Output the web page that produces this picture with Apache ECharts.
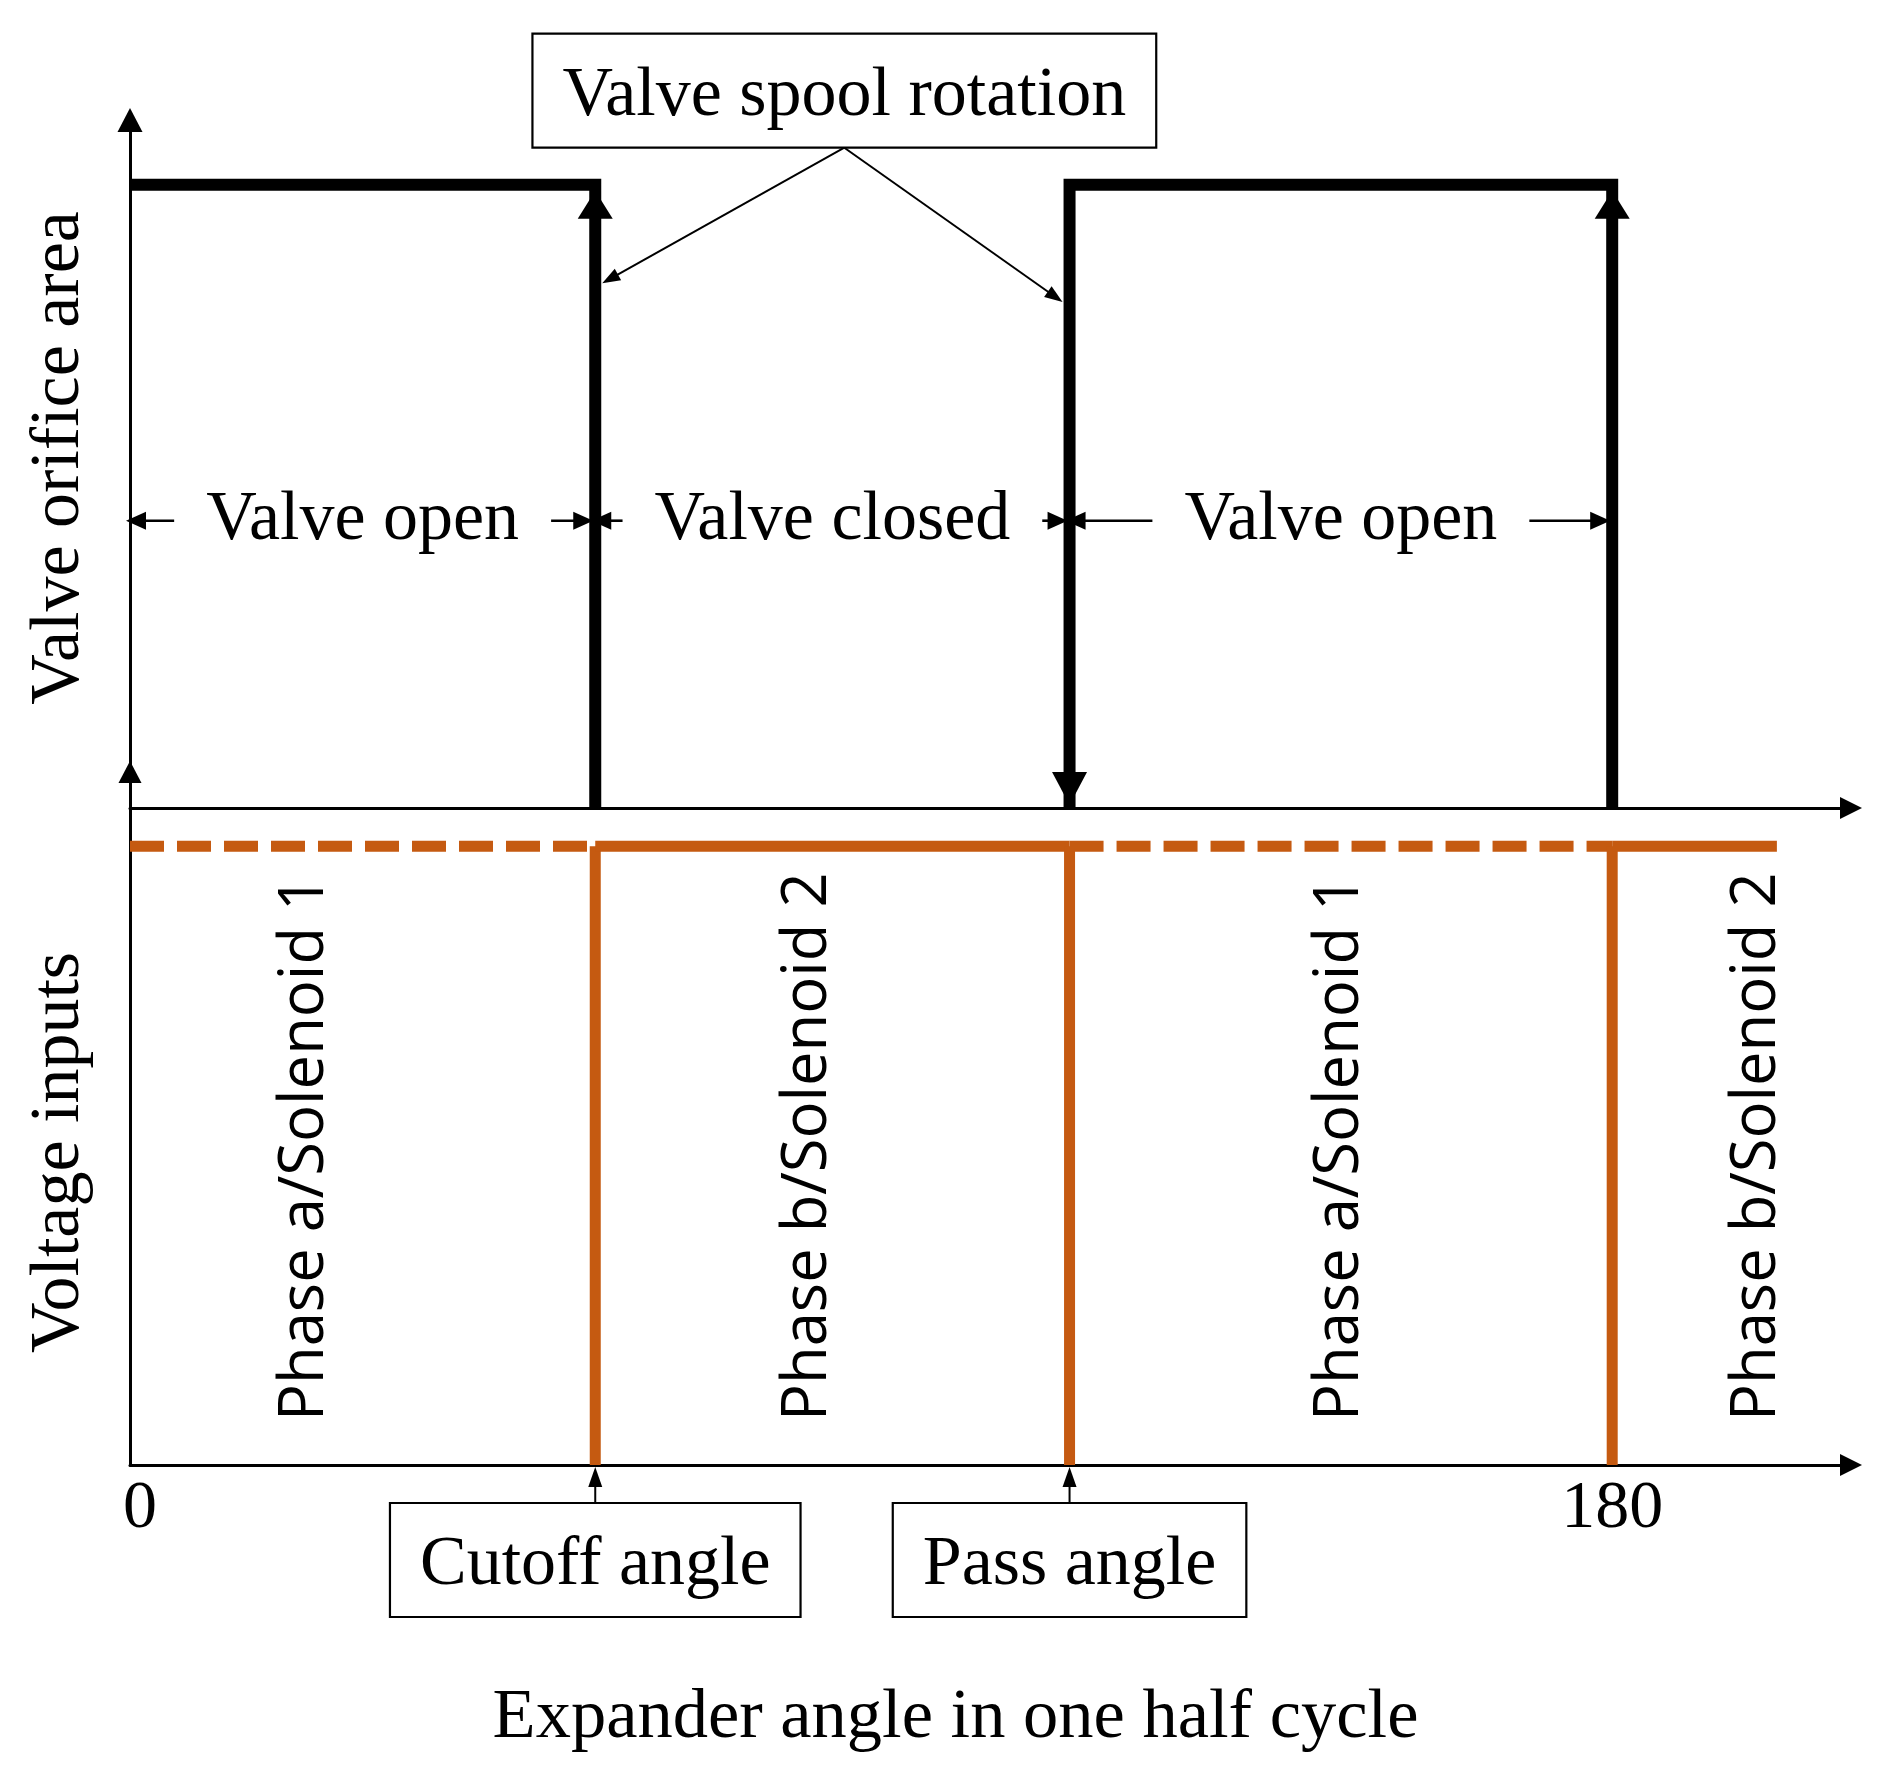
<!DOCTYPE html>
<html>
<head>
<meta charset="utf-8">
<script src="https://cdn.jsdelivr.net/npm/echarts@6/dist/echarts.min.js"></script>
<style>
  html, body { margin: 0; padding: 0; background: #ffffff; }
  #chart { width: 1877px; height: 1775px; }
</style>
</head>
<body>
<div id="chart"></div>
<script>
// ---------------- data ----------------
const xAxisMax = 209;                                  // end of the expander-angle axis
const xTickValues = [0, 180];
const valveOpenLevel = 1;
const valveOpenIntervals = [[0, 56.5], [114.1, 180]];
const transitionAngles = [56.5, 114.1, 180];
const transitionDirections = [1, -1, 1];              // 1 = opening (arrow up), -1 = closing (arrow down)
const valveStateIntervals = [[0, 56.5], [56.5, 114.1], [114.1, 180]];
const valveStateLabels = ['Valve open', 'Valve closed', 'Valve open'];
const voltageLevel = 1;
const phaseIntervals = [[0, 56.5], [56.5, 114.1], [114.1, 180], [180, 200]];
const phaseDashed = [1, 0, 1, 0];
const phaseLabels = ['Phase a/Solenoid 1', 'Phase b/Solenoid 2', 'Phase a/Solenoid 1', 'Phase b/Solenoid 2'];
const phaseLabelAngles = [21.3, 82.4, 147, 197.6];
const angleMarkers = [56.5, 114.1];
const angleMarkerLabels = ['Cutoff angle', 'Pass angle'];
const spoolLabel = 'Valve spool rotation';
const spoolTargets = [[56.5, 0.842], [114.1, 0.812]];

// ---------------- styling ----------------
const SERIF = '"Liberation Serif", "Times New Roman", serif';
const SANS = '"Open Sans", "Noto Sans", sans-serif';
const BLACK = '#000000';
const ORANGE = '#C55A11';
const serifFont = '70px ' + SERIF;
const sansFont = '61.5px ' + SANS;

const measureCtx = document.createElement('canvas').getContext('2d');
function textWidth(str, font) { measureCtx.font = font; return measureCtx.measureText(str).width; }

function arrowHead(tip, dx, dy, len, wid, color) {
  const px = -dy, py = dx;
  const bx = tip[0] - dx * len, by = tip[1] - dy * len;
  return {
    type: 'polygon',
    shape: { points: [[tip[0], tip[1]], [bx + px * wid / 2, by + py * wid / 2], [bx - px * wid / 2, by - py * wid / 2]] },
    style: { fill: color }
  };
}
function seg(x1, y1, x2, y2, color, width, dash) {
  return { type: 'line', shape: { x1, y1, x2, y2 }, style: { stroke: color, lineWidth: width, lineDash: dash || null } };
}
function txt(str, x, y, font, align, rotation) {
  return {
    type: 'text', x, y, rotation: rotation || 0,
    style: { text: str, font, fill: BLACK, align: align || 'center', textAlign: align || 'center', verticalAlign: 'middle', textVerticalAlign: 'middle' }
  };
}
function boxedText(str, cx, cy, font) {
  const w = textWidth(str, font) + 60, h = 114;
  return [
    { type: 'rect', shape: { x: cx - w / 2, y: cy - h / 2, width: w, height: h }, style: { fill: '#ffffff', stroke: BLACK, lineWidth: 2.2 } },
    txt(str, cx, cy + 6, font, 'center')
  ];
}

const axisLineStyle = { color: BLACK, width: 3 };

const option = {
  animation: false,
  backgroundColor: '#ffffff',
  grid: [
    { left: 130, top: 120, width: 1721, height: 688 },
    { left: 130, top: 772, width: 1721, height: 693 }
  ],
  xAxis: [
    {
      gridIndex: 0, type: 'value', min: 0, max: xAxisMax,
      axisLine: { show: true, symbol: ['none', 'triangle'], symbolSize: [22, 22], lineStyle: axisLineStyle },
      axisTick: { show: false }, axisLabel: { show: false }, splitLine: { show: false }
    },
    {
      gridIndex: 1, type: 'value', min: 0, max: xAxisMax, interval: 180,
      axisLine: { show: true, symbol: ['none', 'triangle'], symbolSize: [22, 22], lineStyle: axisLineStyle },
      axisTick: { show: false }, splitLine: { show: false },
      axisLabel: {
        show: true, color: BLACK, fontFamily: SERIF, fontSize: 68, margin: 10,
        formatter: v => (xTickValues.indexOf(v) < 0 ? '' : (v === xTickValues[0] ? '{first|' + v + '}' : String(v))),
        rich: { first: { color: BLACK, fontFamily: SERIF, fontSize: 68, padding: [0, 0, 0, 20] } }
      },
      name: 'Expander angle in one half cycle', nameLocation: 'middle', nameGap: 218,
      nameTextStyle: { color: BLACK, fontFamily: SERIF, fontSize: 70.5, padding: [0, 70, 0, 0] }
    }
  ],
  yAxis: [
    {
      gridIndex: 0, type: 'value', min: 0, max: 1.104,
      axisLine: { show: true, symbol: ['none', 'triangle'], symbolSize: [25, 24], lineStyle: axisLineStyle },
      axisTick: { show: false }, axisLabel: { show: false }, splitLine: { show: false },
      name: 'Valve orifice area', nameLocation: 'middle', nameGap: 35,
      nameTextStyle: { color: BLACK, fontFamily: SERIF, fontSize: 70, padding: [0, 0, 0, 12] }
    },
    {
      gridIndex: 1, type: 'value', min: 0, max: 1.12,
      axisLine: { show: true, symbol: ['none', 'triangle'], symbolSize: [23, 22], lineStyle: axisLineStyle },
      axisTick: { show: false }, axisLabel: { show: false }, splitLine: { show: false },
      name: 'Voltage inputs', nameLocation: 'middle', nameGap: 35,
      nameTextStyle: { color: BLACK, fontFamily: SERIF, fontSize: 70, padding: [0, 68, 0, 0] }
    }
  ],
  series: [
    // valve orifice area (open plateaus with their vertical edges)
    {
      type: 'custom', xAxisIndex: 0, yAxisIndex: 0, z: 3,
      data: valveOpenIntervals,
      renderItem(params, api) {
        const s = api.value(0), e = api.value(1);
        const pts = [];
        if (s > 0) pts.push(api.coord([s, 0]));
        pts.push(api.coord([s, valveOpenLevel]), api.coord([e, valveOpenLevel]), api.coord([e, 0]));
        return { type: 'polyline', shape: { points: pts }, style: { stroke: BLACK, lineWidth: 12, fill: null, lineJoin: 'miter' } };
      }
    },
    // transition arrowheads
    {
      type: 'custom', xAxisIndex: 0, yAxisIndex: 0, z: 4,
      data: transitionAngles.map((a, i) => [a, transitionDirections[i]]),
      renderItem(params, api) {
        const a = api.value(0), d = api.value(1);
        if (d > 0) {
          const tip = api.coord([a, valveOpenLevel]);
          return arrowHead([tip[0], tip[1] + 6], 0, -1, 28, 35, BLACK);
        }
        const tip = api.coord([a, 0]);
        return arrowHead([tip[0], tip[1] - 3], 0, 1, 33, 35, BLACK);
      }
    },
    // valve state labels with dimension arrows
    {
      type: 'custom', xAxisIndex: 0, yAxisIndex: 0, z: 5,
      data: valveStateIntervals,
      renderItem(params, api) {
        const label = valveStateLabels[params.dataIndex];
        const p0 = api.coord([api.value(0), 0.461]);
        const p1 = api.coord([api.value(1), 0.461]);
        const y = p0[1], mid = (p0[0] + p1[0]) / 2;
        const w = textWidth(label, serifFont), gap = 32;
        const l = mid - w / 2 - gap, r = mid + w / 2 + gap;
        return {
          type: 'group',
          children: [
            txt(label, mid, y, serifFont, 'center'),
            seg(l, y, p0[0] + 10, y, BLACK, 2.6),
            arrowHead([p0[0] - 4, y], -1, 0, 20, 18, BLACK),
            seg(r, y, p1[0] - 10, y, BLACK, 2.6),
            arrowHead([p1[0] - 2, y], 1, 0, 20, 18, BLACK)
          ]
        };
      }
    },
    // "Valve spool rotation" annotation
    {
      type: 'custom', xAxisIndex: 0, yAxisIndex: 0, z: 6,
      data: [[86.75, 1.151]],
      renderItem(params, api) {
        const c = api.coord([api.value(0), api.value(1)]);
        const origin = [c[0], c[1] + 57];
        const children = [];
        spoolTargets.forEach((t, i) => {
          const p = api.coord(t);
          const tip = [p[0] + (i === 0 ? 7 : -7), p[1]];
          const dx = tip[0] - origin[0], dy = tip[1] - origin[1];
          const L = Math.hypot(dx, dy);
          const ux = dx / L, uy = dy / L;
          children.push(seg(origin[0], origin[1], tip[0] - ux * 10, tip[1] - uy * 10, BLACK, 2));
          children.push(arrowHead(tip, ux, uy, 18, 13, BLACK));
        });
        return { type: 'group', children: children.concat(boxedText(spoolLabel, c[0], c[1], serifFont)) };
      }
    },
    // voltage inputs (phase a dashed, phase b solid)
    {
      type: 'custom', xAxisIndex: 1, yAxisIndex: 1, z: 3,
      data: phaseIntervals,
      renderItem(params, api) {
        const s = api.value(0), e = api.value(1);
        const a = api.coord([s, voltageLevel]), b = api.coord([e, voltageLevel]);
        const children = [];
        if (s > 0) {
          const bottom = api.coord([s, 0]);
          children.push(seg(a[0], a[1], bottom[0], bottom[1], ORANGE, 11));
        }
        children.push(seg(a[0], a[1], b[0], b[1], ORANGE, 11, phaseDashed[params.dataIndex] ? [34, 13] : null));
        return { type: 'group', children };
      }
    },
    // phase / solenoid labels
    {
      type: 'custom', xAxisIndex: 1, yAxisIndex: 1, z: 5,
      data: phaseLabelAngles.map(a => [a, 0.071]),
      renderItem(params, api) {
        const p = api.coord([api.value(0), api.value(1)]);
        return txt(phaseLabels[params.dataIndex], p[0], p[1], sansFont, 'left', Math.PI / 2);
      }
    },
    // cutoff / pass angle markers
    {
      type: 'custom', xAxisIndex: 1, yAxisIndex: 1, z: 6,
      data: angleMarkers.map(a => [a, 0]),
      renderItem(params, api) {
        const p = api.coord([api.value(0), 0]);
        const top = p[1] + 38;
        const children = [
          seg(p[0], top, p[0], p[1] + 16, BLACK, 2),
          arrowHead([p[0], p[1] + 2], 0, -1, 20, 14, BLACK)
        ];
        return { type: 'group', children: children.concat(boxedText(angleMarkerLabels[params.dataIndex], p[0], top + 57, serifFont)) };
      }
    }
  ]
};

const chart = echarts.init(document.getElementById('chart'), null, { renderer: 'canvas' });
chart.setOption(option);
</script>
</body>
</html>
